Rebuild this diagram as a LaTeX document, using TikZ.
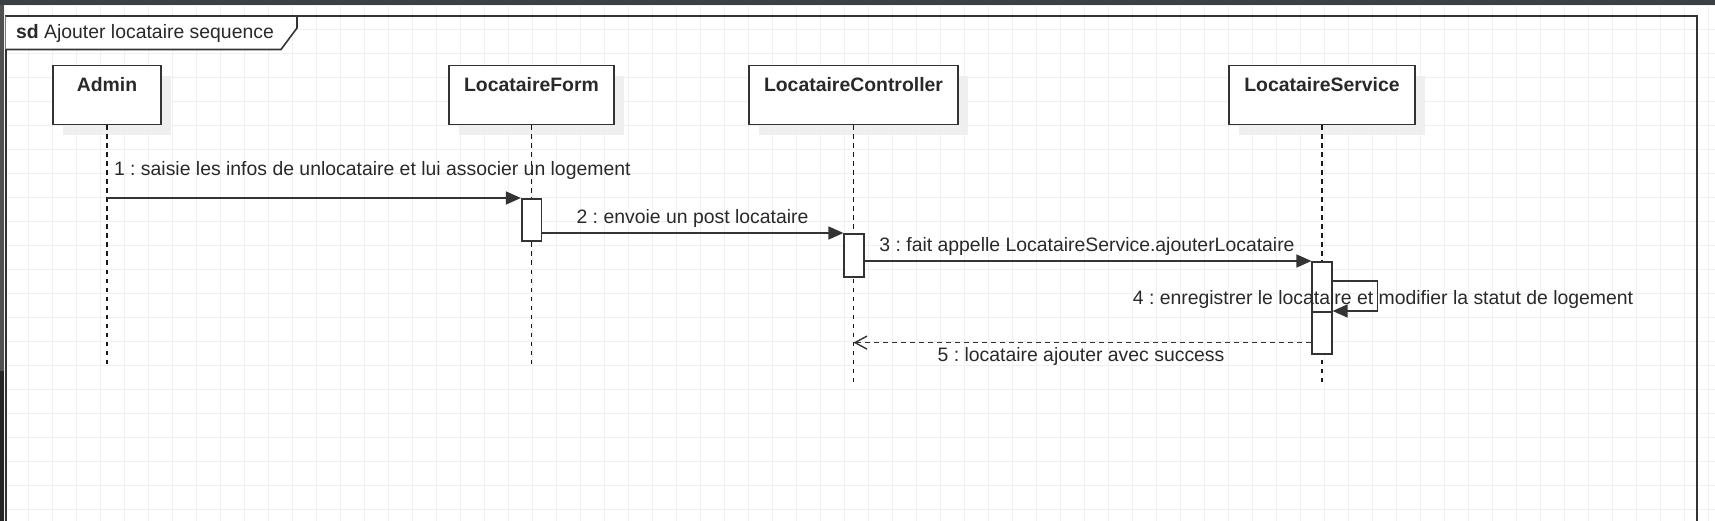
\documentclass[tikz,border=0pt]{standalone}
\usepackage{fontspec}
\setmainfont{Liberation Sans}
\usetikzlibrary{arrows.meta,shadows}
\definecolor{ink}{HTML}{333333}
\definecolor{gridgray}{HTML}{F0F0F0}
\definecolor{shadowgray}{HTML}{EFEFEF}
\definecolor{topbar}{HTML}{3B4045}
\definecolor{stripgray}{HTML}{505050}
\definecolor{stripdark}{HTML}{242424}
\frenchspacing

\begin{document}
\begin{tikzpicture}[x=1pt, y=-1pt,
	every node/.style={font=\fontsize{19.4}{23}\selectfont, text=ink!80!black},
	gridline/.style={gridgray, line width=1pt},
	actor/.style={draw=ink, line width=1.8pt, fill=white, inner xsep=0pt, inner ysep=0pt,
		minimum height=59pt, text height=26pt, text depth=33pt, anchor=north,
		font=\fontsize{19.4}{23}\selectfont\bfseries,
		general shadow={fill=shadowgray, shadow xshift=10pt, shadow yshift=-10pt}},
	lifeline/.style={black!90, line width=1.5pt, dash pattern=on 4.5pt off 4.5pt},
	actbar/.style={draw=ink, line width=1.6pt, fill=white, minimum width=19.6pt, inner sep=0pt, anchor=north},
	msg/.style={ink, line width=1.5pt, -{Triangle[length=15pt,width=13pt]}},
	reply/.style={ink, line width=1.4pt, dash pattern=on 5pt off 4pt, -{Straight Barb[length=12pt,width=13pt]}},
	]
	\useasboundingbox (0,0) rectangle (1715,521);
	\clip (0,0) rectangle (1715,521);

	% background grid
	\foreach \gx in {0,...,71}
		\draw[gridline] ({4.7+24*\gx},0) -- ++(0,521);
	\foreach \gy in {0,...,21}
		\draw[gridline] (0,{5.5+24*\gy}) -- ++(1715,0);

	% window edges
	\fill[topbar] (0,0) rectangle (1715,4.7);
	\fill[stripgray] (0,4.7) rectangle (4.3,371);
	\fill[stripdark] (0,371) rectangle (4.3,521);

	% frame and its tab
	\draw[ink, line width=2pt] (5.5,16) rectangle (1697,540);
	\draw[ink, line width=1.6pt, fill=white] (5.5,16) -- (297,16) -- (297,28) -- (281,49.5) -- (5.5,49.5);
	\node[anchor=base west] (title) at (12.6,38.3) {\textbf{sd}\ Ajouter locataire sequence};

	% participants
	\node[actor, minimum width=108pt] (admin) at (107,64.7) {Admin};
	\node[actor, minimum width=165pt] (form) at (531.5,64.7) {LocataireForm};
	\node[actor, minimum width=209pt] (ctrl) at (853.5,64.7) {LocataireController};
	\node[actor, minimum width=185.5pt] (svc) at (1322,64.7) {LocataireService};

	% lifelines
	\draw[lifeline] (admin.south) -- ++(0,240);
	\draw[lifeline] (form.south) -- ++(0,240);
	\draw[lifeline] (ctrl.south) -- ++(0,260);
	\draw[lifeline] (svc.south) -- ++(0,258);

	% activations
	\node[actbar, minimum height=42pt] (formact) at (531.5,198) {};
	\node[actbar, minimum height=43pt] (ctrlact) at (854,233) {};
	\node[actbar, minimum height=50pt] (svcact) at (1322,261) {};
	\node[actbar, minimum height=42pt] (svcret) at (1322,311) {};

	% messages
	\coordinate (adminout) at (admin.south |- formact.north);
	\draw[msg] (adminout) -- (formact.north west);
	\draw[msg] (formact.east |- ctrlact.north) -- (ctrlact.north west);
	\draw[msg] (ctrlact.east |- svcact.north) -- (svcact.north west);
	\draw[msg] (svcact.north east) ++(0,20) -- ++(45,0) |- (svcret.north east);
	\coordinate (retstart) at ([yshift=12pt]svcret.south west);
	\draw[reply] (retstart) -- (ctrl.south |- retstart);

	\node[anchor=base west] (m1) at (110.5,175.5) {1 : saisie les infos de unlocataire et lui associer un logement};
	\node[anchor=base] (m2) at (692.5,223.3) {2 : envoie un post locataire};
	\node[anchor=base] (m3) at (1087,252) {3 : fait appelle LocataireService.ajouterLocataire};
	\node[anchor=base] (m4) at (1383,305) {4 : enregistrer le locataire et modifier la statut de logement};
	\node[anchor=base] (m5) at (1081,361.7) {5 : locataire ajouter avec success};
\end{tikzpicture}
\end{document}
